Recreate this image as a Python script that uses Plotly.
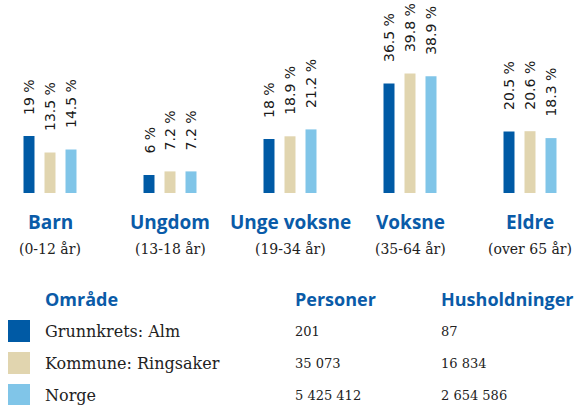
import plotly.graph_objects as go

categories = ["Barn", "Ungdom", "Unge voksne", "Voksne", "Eldre"]
subtitles = ["(0-12 år)", "(13-18 år)", "(19-34 år)", "(35-64 år)", "(over 65 år)"]
series_names = ["Grunnkrets: Alm", "Kommune: Ringsaker", "Norge"]
alm = [19, 6, 18, 36.5, 20.5]
ringsaker = [13.5, 7.2, 18.9, 39.8, 20.6]
norge = [14.5, 7.2, 21.2, 38.9, 18.3]
personer = ["201", "35 073", "5 425 412"]
husholdninger = ["87", "16 834", "2 654 586"]
colors = ["#005AA5", "#E1D5AF", "#80C5E8"]
series_values = [alm, ringsaker, norge]

BLUE = "#0A5BA8"
W, H = 574, 405
baseline_px = 193
px_per_unit = 3.0
group_px = 120
first_center_px = 50
slot_px = 21

fig = go.Figure()
for name, vals, col in zip(series_names, series_values, colors):
    fig.add_trace(go.Bar(x=categories, y=vals, name=name, marker_color=col,
                         marker_line_width=0, showlegend=False, hoverinfo="skip"))

# value labels (rotated)
for i, vals in enumerate(series_values):
    shift = (i - 1) * slot_px
    for cat, v in zip(categories, vals):
        txt = f"{v:g} %"
        fig.add_annotation(x=cat, y=v, xref="x", yref="y", text=txt, textangle=-90,
                           showarrow=False, xanchor="center", yanchor="bottom",
                           xshift=shift, yshift=19,
                           font=dict(family="DejaVu Sans", size=14, color="#1a1a1a"))

# category labels
for cat, sub in zip(categories, subtitles):
    fig.add_annotation(x=cat, y=1 - 222 / H, xref="x", yref="paper", text=f"<b>{cat}</b>",
                       showarrow=False, xanchor="center", yanchor="middle",
                       font=dict(family="Open Sans", size=19, color=BLUE))
    fig.add_annotation(x=cat, y=1 - 249 / H, xref="x", yref="paper", text=sub,
                       showarrow=False, xanchor="center", yanchor="middle",
                       font=dict(family="DejaVu Serif", size=14, color="#222222"))

# table legend
headers = [("Område", 43), ("Personer", 293), ("Husholdninger", 439)]
for txt, xp in headers:
    fig.add_annotation(x=xp / W, y=1 - 299 / H, xref="paper", yref="paper", text=f"<b>{txt}</b>",
                       showarrow=False, xanchor="left", yanchor="middle",
                       font=dict(family="Open Sans", size=18, color=BLUE))
row_y = [331, 363, 395]
for name, col, p, h, yp in zip(series_names, colors, personer, husholdninger, row_y):
    fig.add_shape(type="rect", xref="paper", yref="paper",
                  x0=8 / W, x1=30 / W, y0=1 - (yp - 11) / H, y1=1 - (yp + 11) / H,
                  fillcolor=col, line_width=0)
    fig.add_annotation(x=43 / W, y=1 - yp / H, xref="paper", yref="paper", text=name,
                       showarrow=False, xanchor="left", yanchor="middle",
                       font=dict(family="DejaVu Serif", size=16, color="#222222"))
    fig.add_annotation(x=293 / W, y=1 - yp / H, xref="paper", yref="paper", text=p,
                       showarrow=False, xanchor="left", yanchor="middle",
                       font=dict(family="DejaVu Serif", size=13, color="#222222"))
    fig.add_annotation(x=439 / W, y=1 - yp / H, xref="paper", yref="paper", text=h,
                       showarrow=False, xanchor="left", yanchor="middle",
                       font=dict(family="DejaVu Serif", size=13, color="#222222"))

fig.update_layout(
    width=W, height=H,
    margin=dict(l=0, r=0, t=0, b=0),
    paper_bgcolor="white", plot_bgcolor="white",
    barmode="group", bargap=0.475, bargroupgap=0.476,
    xaxis=dict(range=[-first_center_px / group_px, (W - first_center_px) / group_px],
               showticklabels=False, showgrid=False, zeroline=False, showline=False,
               domain=[0, 1], fixedrange=True),
    yaxis=dict(range=[0, baseline_px / px_per_unit], domain=[1 - baseline_px / H, 1],
               showticklabels=False, showgrid=False, zeroline=False, showline=False,
               fixedrange=True),
)

fig.write_html("out.html", config={"displayModeBar": False},
               post_script="document.body.style.margin='0';document.body.style.overflow='hidden';")
